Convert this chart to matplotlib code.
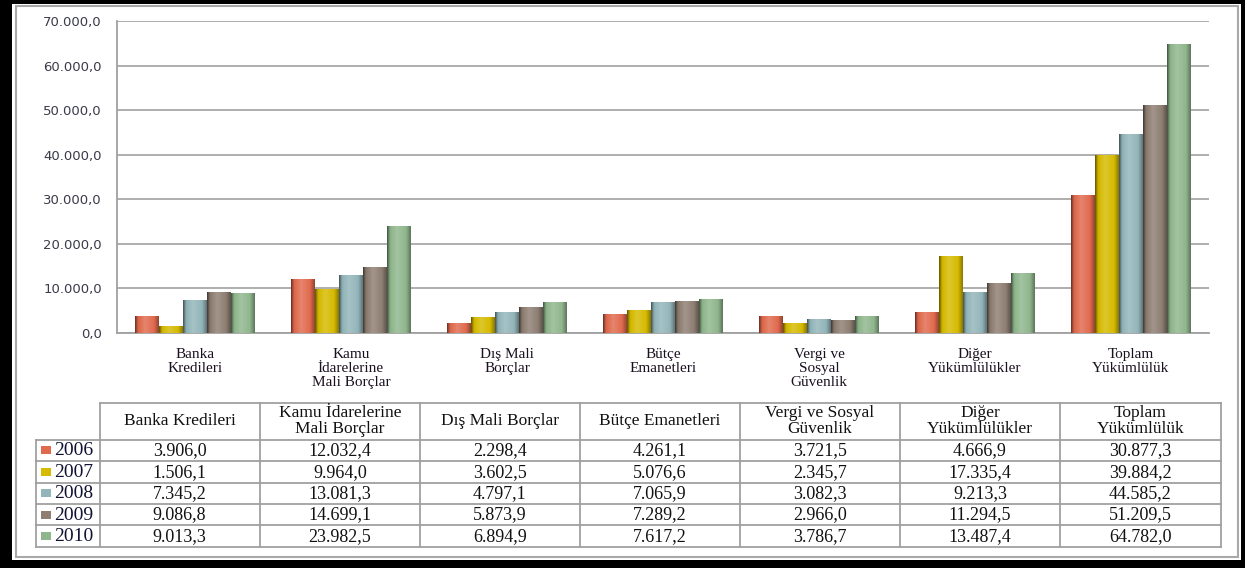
import numpy as np
import matplotlib
matplotlib.use('Agg')
import matplotlib.pyplot as plt
from matplotlib.patches import Rectangle
from matplotlib.colors import to_rgb
from matplotlib.ticker import FuncFormatter

# Kategoriler (grafik altı ve tablo başlığı)
categories = ['Banka\nKredileri', 'Kamu\nİdarelerine\nMali Borçlar', 'Dış Mali\nBorçlar',
              'Bütçe\nEmanetleri', 'Vergi ve\nSosyal\nGüvenlik', 'Diğer\nYükümlülükler',
              'Toplam\nYükümlülük']
table_headers = ['Banka Kredileri', 'Kamu İdarelerine\nMali Borçlar', 'Dış Mali Borçlar',
                 'Bütçe Emanetleri', 'Vergi ve Sosyal\nGüvenlik', 'Diğer\nYükümlülükler',
                 'Toplam\nYükümlülük']
years = ['2006', '2007', '2008', '2009', '2010']

v2006 = [3906.0, 12032.4, 2298.4, 4261.1, 3721.5, 4666.9, 30877.3]
v2007 = [1506.1, 9964.0, 3602.5, 5076.6, 2345.7, 17335.4, 39884.2]
v2008 = [7345.2, 13081.3, 4797.1, 7065.9, 3082.3, 9213.3, 44585.2]
v2009 = [9086.8, 14699.1, 5873.9, 7289.2, 2966.0, 11294.5, 51209.5]
v2010 = [9013.3, 23982.5, 6894.9, 7617.2, 3786.7, 13487.4, 64782.0]
series = [v2006, v2007, v2008, v2009, v2010]

colors = ['#E06A4E', '#D6BA00', '#92B5B9', '#8E7E72', '#8FB68D']


def tr(x, dec=1):
    # Türkçe sayı biçimi: 12.032,4
    s = f'{x:,.{dec}f}'
    return s.replace(',', 'X').replace('.', ',').replace('X', '.')


def gradient(base):
    # silindir görünümü: kenarlar koyu, ortası açık
    b = np.array(to_rgb(base))
    pos = np.linspace(0, 1, 64)
    stops = [0.0, 0.12, 0.42, 0.8, 1.0]
    mixes = [-0.55, -0.05, 0.18, 0.0, -0.35]
    m = np.interp(pos, stops, mixes)
    out = []
    for f in m:
        if f < 0:
            out.append(b * (1 + f))
        else:
            out.append(b + (1 - b) * f)
    return np.array(out)[None, :, :]


W, H = 1245, 568
fig = plt.figure(figsize=(W / 100, H / 100), dpi=100, facecolor='black')

# çerçeve
bg = fig.add_axes([0, 0, 1, 1])
bg.set_xlim(0, W)
bg.set_ylim(H, 0)
bg.axis('off')
bg.add_patch(Rectangle((12, 4), 1229, 556, facecolor='white', edgecolor='none'))
bg.add_patch(Rectangle((16, 6), 1222, 551, facecolor='none', edgecolor='#A8A8A8', lw=1.5))

# grafik
ax = fig.add_axes([117 / W, 1 - 333 / H, (1209 - 117) / W, (333 - 21) / H])
ax.set_zorder(2)
ax.patch.set_alpha(0)
x = np.arange(len(categories))
bw = 0.153
for i, (vals, c) in enumerate(zip(series, colors)):
    bars = ax.bar(x + (i - 2) * bw, vals, bw, color='none', edgecolor='none', zorder=3)
    img = gradient(c)
    for b in bars:
        im = ax.imshow(img, extent=[b.get_x(), b.get_x() + b.get_width(), 0, b.get_height()],
                       aspect='auto', zorder=3, interpolation='bilinear')
        im.set_clip_path(b)

ax.set_xlim(-0.5, len(categories) - 0.5)
ax.set_ylim(0, 70000)
ax.set_yticks(np.arange(0, 70001, 10000))
ax.yaxis.set_major_formatter(FuncFormatter(lambda v, p: tr(v)))
ax.grid(axis='y', color='#A8A8A8', lw=1.3, zorder=0)
ax.set_axisbelow(True)
for s in ['top', 'right']:
    ax.spines[s].set_visible(False)
for s in ['left', 'bottom']:
    ax.spines[s].set_color('#A0A0A0')
    ax.spines[s].set_linewidth(1.3)
ax.tick_params(axis='y', length=0, pad=11, labelsize=9.5, labelcolor='#3A3A4A')
ax.set_xticks(x)
ax.set_xticklabels(categories, fontfamily='Liberation Serif', fontsize=11,
                   color='#1A1020', linespacing=1.1)
ax.tick_params(axis='x', length=0, pad=11)

# tablo
col_edges = [99.5, 259.7, 419.9, 580.0, 740.0, 900.0, 1060.0, 1220.5]
row_edges = [402.5, 439.5, 461.0, 482.5, 504.0, 525.0, 546.5]
label_left = 36
gc = '#A0A0A0'
lw = 1.3
# yatay çizgiler
bg.plot([col_edges[0], col_edges[-1]], [row_edges[0]] * 2, color=gc, lw=lw)
for y in row_edges[1:]:
    bg.plot([label_left, col_edges[-1]], [y, y], color=gc, lw=lw)
# dikey çizgiler
bg.plot([label_left] * 2, [row_edges[1], row_edges[-1]], color=gc, lw=lw)
for xe in col_edges:
    bg.plot([xe, xe], [row_edges[0], row_edges[-1]], color=gc, lw=lw)

for j, h in enumerate(table_headers):
    cx = (col_edges[j] + col_edges[j + 1]) / 2
    cy = (row_edges[0] + row_edges[1]) / 2
    bg.text(cx, cy, h, ha='center', va='center', fontfamily='Liberation Serif',
            fontsize=12.5, linespacing=0.92, color='#111111')

for i, (yr, vals, c) in enumerate(zip(years, series, colors)):
    cy = (row_edges[i + 1] + row_edges[i + 2]) / 2
    bg.add_patch(Rectangle((41, cy - 4), 10, 8, facecolor=c, edgecolor='none'))
    bg.text(54, cy + 0.5, yr, ha='left', va='center', fontfamily='Liberation Serif',
            fontsize=14, color='#111133')
    for j, v in enumerate(vals):
        cx = (col_edges[j] + col_edges[j + 1]) / 2
        bg.text(cx, cy + 0.5, tr(v), ha='center', va='center', fontfamily='Liberation Serif',
                fontsize=13, color='#111111')

fig.savefig('out.png', dpi=100, facecolor='black')
